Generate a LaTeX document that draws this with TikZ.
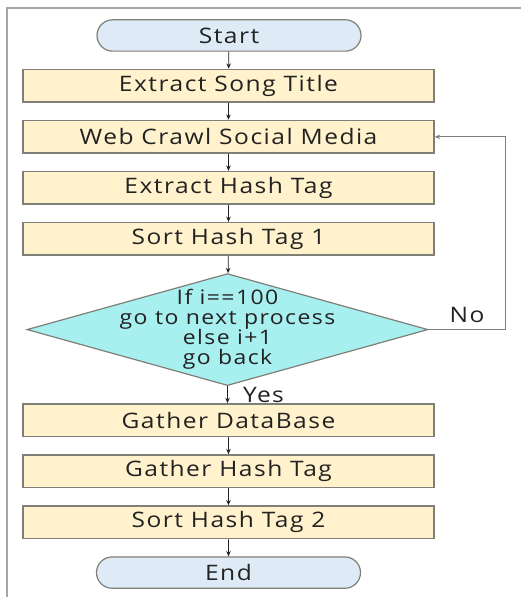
\documentclass[tikz,border=0pt]{standalone}
\usepackage{fontspec}
\setmainfont[FakeStretch=1.15, LetterSpace=7]{Open Sans}
\usetikzlibrary{positioning,shapes.geometric,shapes.misc,arrows.meta}

\definecolor{procfill}{HTML}{FFF2CC}
\definecolor{termfill}{HTML}{DEEBF7}
\definecolor{decfill}{HTML}{A8EFF0}
\definecolor{edgegray}{HTML}{7F7F78}
\definecolor{inkgray}{HTML}{222222}

\tikzset{
  process/.style={rectangle, draw=edgegray, line width=1.2pt, fill=procfill,
    minimum width=308.25pt, minimum height=24.4pt, inner sep=0pt},
  terminal/.style={rounded rectangle, draw=edgegray, line width=0.9pt, fill=termfill,
    minimum width=198pt, minimum height=23.5pt, inner sep=0pt},
  decision/.style={diamond, draw=edgegray, line width=0.9pt, fill=decfill,
    minimum width=300.75pt, minimum height=84pt, inner sep=0pt},
  flow/.style={draw=inkgray, line width=0.6pt, -{Stealth[length=4pt,width=3.4pt]}},
  loopline/.style={draw=edgegray, line width=1pt, -{Stealth[length=4pt,width=3.4pt]}}
}

\begin{document}
\begin{tikzpicture}[node distance=12.7pt, font=\fontsize{16}{18}\selectfont, text=inkgray]
\useasboundingbox (-171.75pt,26.6pt) rectangle (219pt,-421.1pt);
% frame
\draw[line width=1.5pt, gray!70] (-166.5pt,-421.1pt) -- (-166.5pt,20.6pt) -- (219pt,20.6pt);

\node[terminal] (start) at (0,0) {Start};
\node[process, below=of start, xshift=-0.4pt] (title) {Extract Song Title};
\node[process, below=of title] (crawl) {Web Crawl Social Media};
\node[process, below=of crawl] (tags) {Extract Hash Tag};
\node[process, below=of tags] (sort1) {Sort Hash Tag 1};
\node[decision, below=of sort1, xshift=-0.75pt,
  label={[align=center, font=\fontsize{15}{15}\selectfont]center:If i==100\\go to next process\\else i+1\\go back}] (check) {};
\node[process, below=of check, xshift=0.75pt] (gather) {Gather DataBase};
\node[process, below=of gather] (gtags) {Gather Hash Tag};
\node[process, below=of gtags] (sort2) {Sort Hash Tag 2};
\node[terminal, below=of sort2] (end) {End};

\draw[flow] (start) -- (title);
\draw[flow] (title) -- (crawl);
\draw[flow] (crawl) -- (tags);
\draw[flow] (tags) -- (sort1);
\draw[flow] (sort1) -- (check);
\draw[flow] (check.south) -- node[right, xshift=8pt] {Yes} (check.south |- gather.north);
\draw[flow] (gather) -- (gtags);
\draw[flow] (gtags) -- (sort2);
\draw[flow] (sort2) -- (end);

% back to the crawler
\coordinate (loopx) at ([xshift=57.75pt]check.east);
\draw[loopline] (check.east) -- node[above, yshift=1pt] {No} (loopx) |- (crawl.east);
\end{tikzpicture}
\end{document}
